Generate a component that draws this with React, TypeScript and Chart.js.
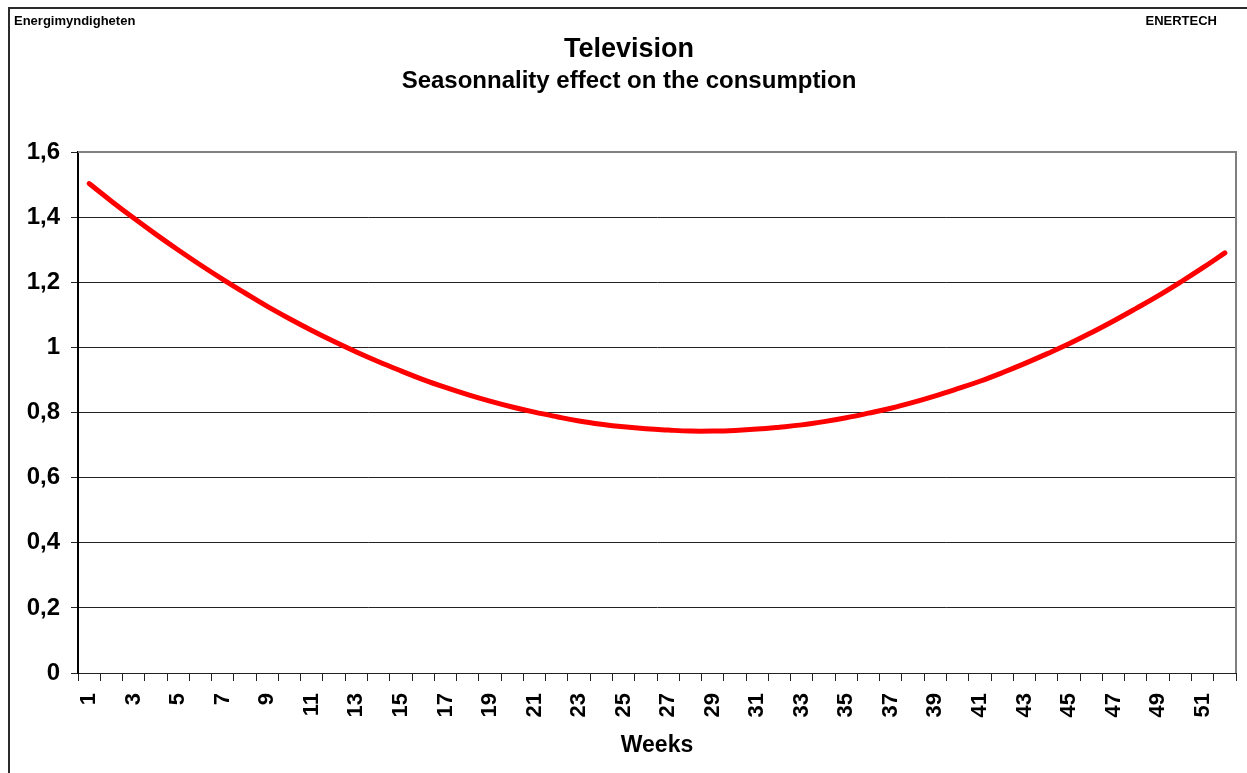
import React, { useEffect, useRef } from "react";
import { Chart, registerables } from "chart.js";

Chart.register(...registerables);

const HEADER_LEFT = "Energimyndigheten";
const HEADER_RIGHT = "ENERTECH";
const TITLE = "Television";
const SUBTITLE = "Seasonnality effect on the consumption";
const X_TITLE = "Weeks";

const weeks = [
  "1", "2", "3", "4", "5", "6", "7", "8", "9", "10",
  "11", "12", "13", "14", "15", "16", "17", "18", "19", "20",
  "21", "22", "23", "24", "25", "26", "27", "28", "29", "30",
  "31", "32", "33", "34", "35", "36", "37", "38", "39", "40",
  "41", "42", "43", "44", "45", "46", "47", "48", "49", "50",
  "51", "52",
];

const consumption = [
  1.503, 1.449, 1.397, 1.347, 1.299, 1.253, 1.209, 1.167, 1.126, 1.088,
  1.052, 1.018, 0.986, 0.956, 0.928, 0.901, 0.877, 0.855, 0.835, 0.817,
  0.801, 0.787, 0.774, 0.764, 0.756, 0.75, 0.746, 0.743, 0.743, 0.745,
  0.749, 0.755, 0.762, 0.772, 0.784, 0.798, 0.813, 0.831, 0.851, 0.873,
  0.896, 0.922, 0.95, 0.98, 1.011, 1.045, 1.081, 1.119, 1.158, 1.2,
  1.244, 1.29,
];

const Y_MIN = 0;
const Y_MAX = 1.6;
const Y_STEP = 0.2;

const FONT = '"Liberation Sans", Arial, Helvetica, sans-serif';

const decorPlugin = {
  id: "decor",
  beforeDraw(chart: any) {
    const { ctx } = chart;
    ctx.save();
    ctx.fillStyle = "#ffffff";
    ctx.fillRect(0, 0, chart.width, chart.height);
    ctx.fillStyle = "#2b2b2b";
    ctx.fillRect(8, 7, chart.width - 8, 2);
    ctx.fillRect(8, 7, 2, chart.height - 7);
    ctx.restore();
  },
  afterDraw(chart: any) {
    const { ctx, chartArea } = chart;
    ctx.save();
    ctx.strokeStyle = "#808080";
    ctx.lineWidth = 2;
    ctx.beginPath();
    ctx.moveTo(chartArea.left, chartArea.top);
    ctx.lineTo(chartArea.right, chartArea.top);
    ctx.lineTo(chartArea.right, chartArea.bottom);
    ctx.stroke();

    ctx.fillStyle = "#000000";
    ctx.textBaseline = "alphabetic";
    ctx.font = `bold 13px ${FONT}`;
    ctx.textAlign = "left";
    ctx.fillText(HEADER_LEFT, 14, 25);
    ctx.textAlign = "right";
    ctx.fillText(HEADER_RIGHT, 1217, 25);

    ctx.textAlign = "center";
    ctx.font = `bold 27px ${FONT}`;
    ctx.fillText(TITLE, 629, 57);
    ctx.font = `bold 24px ${FONT}`;
    ctx.fillText(SUBTITLE, 629, 88);

    ctx.font = `bold 23px ${FONT}`;
    ctx.fillText(X_TITLE, (chartArea.left + chartArea.right) / 2, 752);
    ctx.restore();
  },
};

export default function App() {
  const canvasRef = useRef<HTMLCanvasElement | null>(null);

  useEffect(() => {
    const canvas = canvasRef.current;
    if (!canvas) return;
    const chart = new Chart(canvas, {
      type: "line",
      data: {
        labels: weeks,
        datasets: [
          {
            label: "Consumption",
            data: consumption,
            borderColor: "#ff0000",
            backgroundColor: "#ff0000",
            borderWidth: 5,
            borderCapStyle: "round",
            borderJoinStyle: "round",
            pointRadius: 0,
            pointHoverRadius: 0,
            tension: 0.4,
            fill: false,
          },
        ],
      },
      options: {
        responsive: false,
        animation: false,
        devicePixelRatio: 1,
        layout: { padding: { top: 152, right: 11, bottom: 0, left: 0 } },
        plugins: {
          legend: { display: false },
          title: { display: false },
          tooltip: { enabled: false },
        },
        scales: {
          x: {
            type: "category",
            offset: true,
            grid: {
              offset: true,
              drawOnChartArea: false,
              drawTicks: true,
              tickLength: 8,
              color: "#222222",
              lineWidth: 1,
            },
            border: { display: true, color: "#222222", width: 1 },
            ticks: {
              autoSkip: false,
              minRotation: 90,
              maxRotation: 90,
              padding: 12,
              color: "#000000",
              font: { family: FONT, size: 22, weight: "bold" },
              callback: (_v: any, index: number) =>
                index % 2 === 0 ? weeks[index] : "",
            },
            afterFit: (scale: any) => {
              scale.height = 100;
              scale.paddingLeft = 0;
              scale.paddingRight = 0;
            },
          },
          y: {
            min: Y_MIN,
            max: Y_MAX,
            grid: {
              color: "#222222",
              lineWidth: 1,
              tickLength: 7,
              drawTicks: true,
            },
            border: { display: true, color: "#000000", width: 2 },
            ticks: {
              stepSize: Y_STEP,
              padding: 11,
              color: "#000000",
              font: { family: FONT, size: 24, weight: "bold" },
              callback: (v: any) =>
                String(Number(Number(v).toFixed(1))).replace(".", ","),
            },
            afterFit: (scale: any) => {
              scale.width = 78;
              scale.paddingTop = 0;
              scale.paddingBottom = 0;
            },
          },
        },
      },
      plugins: [decorPlugin],
    } as any);
    return () => chart.destroy();
  }, []);

  return (
    <div
      style={{
        position: "fixed",
        left: 0,
        top: 0,
        width: 1247,
        height: 773,
        background: "#fff",
      }}
    >
      <canvas
        ref={canvasRef}
        width={1247}
        height={773}
        style={{ width: 1247, height: 773, display: "block" }}
      />
    </div>
  );
}
